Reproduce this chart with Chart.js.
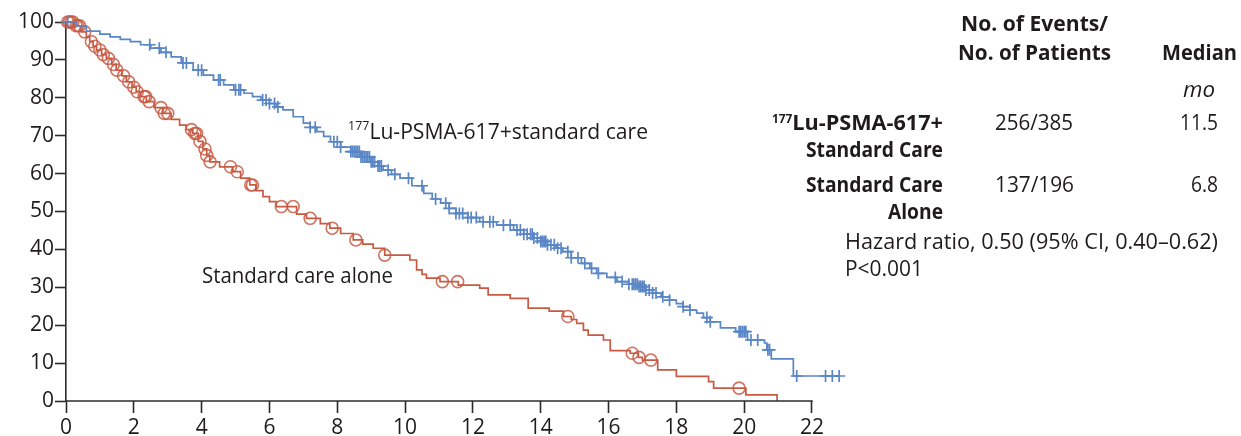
<!DOCTYPE html>
<html>
<head>
<meta charset="utf-8">
<script src="https://cdn.jsdelivr.net/npm/chart.js@4/dist/chart.umd.min.js"></script>
<style>
  html, body { margin: 0; padding: 0; background: #fff; overflow: hidden; }
  #wrap { width: 1241px; height: 436px; position: relative; }
</style>
</head>
<body>
<div id="wrap"><canvas id="km" width="1241" height="436"></canvas></div>
<script>
// Kaplan-Meier overall survival, months from randomization (%)
const lutetiumTimes = [0, 0.3, 0.6, 1.0, 1.3, 1.6, 1.9, 2.2, 2.5, 2.8, 3.1, 3.4, 3.75, 4.05, 4.35, 4.65, 4.95, 5.25, 5.5, 5.75, 6.0, 6.2, 6.4, 6.7, 7.0, 7.2, 7.4, 7.6, 7.8, 8.1, 8.4, 8.7, 9.0, 9.2, 9.35, 9.6, 9.85, 10.2, 10.55, 10.8, 11.05, 11.3, 11.5, 11.85, 12.2, 12.7, 13.2, 13.5, 13.8, 14.0, 14.2, 14.45, 14.65, 14.9, 15.2, 15.45, 15.65, 15.95, 16.25, 16.6, 16.9, 17.1, 17.3, 17.55, 17.8, 18.0, 18.2, 18.4, 18.6, 18.8, 19.0, 19.3, 19.75, 20.1, 20.6, 20.67, 20.8, 21.45, 22.8];
const lutetiumSurvival = [100, 99.0, 97.6, 96.8, 96.1, 95.4, 94.8, 94.0, 93.1, 92.0, 90.8, 89.2, 87.3, 86.0, 84.7, 83.4, 82.1, 81.2, 80.3, 79.4, 78.5, 77.6, 76.8, 75.0, 73.3, 72.2, 71.1, 69.8, 68.4, 67.0, 65.8, 64.4, 63.1, 62.0, 60.9, 59.8, 58.8, 56.8, 54.8, 53.3, 52.2, 50.8, 49.5, 48.4, 47.3, 46.4, 45.1, 44.0, 43.0, 42.1, 41.2, 40.3, 39.4, 37.8, 36.3, 35.0, 33.7, 32.6, 31.5, 30.8, 30.2, 29.3, 28.5, 27.5, 26.6, 25.7, 24.9, 24.0, 23.2, 22.0, 20.9, 19.3, 18.3, 16.1, 15.3, 13.5, 11.1, 6.6, 6.6];
const lutetiumCensored = [0.05, 2.47, 2.75, 2.95, 3.45, 3.55, 3.9, 4.0, 4.5, 4.55, 5.0, 5.1, 5.15, 5.8, 5.9, 6.0, 6.15, 6.25, 7.2, 7.35, 7.9, 8.0, 8.1, 8.4, 8.45, 8.5, 8.55, 8.6, 8.65, 8.7, 8.75, 8.8, 8.85, 8.9, 8.95, 9.0, 9.05, 9.1, 9.2, 9.25, 9.3, 9.5, 9.7, 10.1, 10.5, 10.9, 11.2, 11.3, 11.5, 11.6, 11.7, 11.85, 11.95, 12.1, 12.3, 12.5, 12.6, 12.9, 13.1, 13.3, 13.4, 13.5, 13.6, 13.7, 13.75, 13.8, 13.9, 14.0, 14.05, 14.1, 14.15, 14.2, 14.3, 14.4, 14.5, 14.6, 14.8, 14.9, 15.1, 15.3, 15.5, 15.7, 16.2, 16.4, 16.6, 16.7, 16.75, 16.8, 16.85, 16.9, 16.95, 17.0, 17.05, 17.1, 17.2, 17.3, 17.4, 17.6, 17.8, 18.2, 18.4, 18.9, 19.0, 19.85, 19.9, 19.95, 20.0, 20.05, 20.2, 20.4, 20.7, 20.75, 21.55, 22.4, 22.6, 22.8];

const standardTimes = [0, 0.25, 0.45, 0.6, 0.7, 0.8, 0.9, 1.05, 1.19, 1.35, 1.48, 1.65, 1.78, 1.95, 2.07, 2.2, 2.37, 2.6, 2.86, 3.1, 3.35, 3.55, 3.74, 3.9, 4.04, 4.15, 4.24, 4.53, 4.92, 5.15, 5.42, 5.6, 5.81, 6.0, 6.2, 6.8, 7.09, 7.5, 7.78, 8.1, 8.47, 8.75, 9.06, 9.4, 10.14, 10.34, 10.5, 10.63, 11.03, 11.57, 12.2, 12.45, 13.1, 13.63, 14.25, 14.67, 14.9, 15.06, 15.26, 15.4, 15.85, 16.05, 16.64, 16.88, 17.0, 17.45, 18.0, 18.95, 19.1, 20.05, 20.97];
const standardSurvival = [100, 99.0, 97.4, 96.0, 94.8, 93.6, 92.6, 91.4, 90.4, 88.8, 87.3, 85.8, 84.2, 82.8, 81.6, 80.3, 79.0, 77.4, 75.9, 74.3, 72.8, 71.6, 70.6, 68.5, 66.5, 64.8, 63.1, 61.8, 60.5, 58.8, 57.0, 55.5, 53.9, 52.6, 51.3, 49.3, 48.2, 46.8, 45.6, 44.2, 42.5, 41.4, 40.3, 38.5, 37.2, 34.6, 33.4, 32.4, 31.5, 30.6, 29.8, 28.0, 27.1, 24.5, 23.7, 22.3, 21.5, 20.5, 18.7, 17.4, 16.1, 13.3, 12.6, 11.5, 10.8, 8.2, 6.5, 5.1, 3.4, 1.6, 0];
const standardCensored = [0.05, 0.1, 0.15, 0.2, 0.3, 0.35, 0.4, 0.55, 0.75, 0.85, 1.0, 1.1, 1.25, 1.4, 1.5, 1.7, 1.85, 2.0, 2.1, 2.3, 2.35, 2.45, 2.8, 2.9, 3.0, 3.7, 3.8, 3.85, 3.95, 4.1, 4.15, 4.25, 4.85, 5.05, 5.45, 5.5, 6.35, 6.7, 7.2, 7.85, 8.55, 9.4, 11.1, 11.55, 14.8, 16.7, 16.9, 17.25, 19.85];

const xTickValues = [0, 2, 4, 6, 8, 10, 12, 14, 16, 18, 20, 22];
const yTickValues = [0, 10, 20, 30, 40, 50, 60, 70, 80, 90, 100];

const BLUE = '#5a86c6';
const RED = '#c85a44';
const RED_MARK = 'rgba(200, 90, 68, 0.85)';
const AXIS = '#2b2b2b';
const INK = '#1f1b1c';
const FAMILY = '"Open Sans", "DejaVu Sans", sans-serif';

function toXY(times, values) {
  return times.map((t, i) => ({ x: t, y: values[i] }));
}

// survival value of a step curve at time t
function stepValue(times, values, t) {
  let v = values[0];
  for (let i = 0; i < times.length; i++) {
    if (times[i] <= t) v = values[i]; else break;
  }
  return v;
}

// text drawn as runs (for superscripts), optionally squeezed to a width
function drawRuns(ctx, runs, x, baseline, align, width) {
  let total = 0;
  runs.forEach(r => { ctx.font = r.font; r.w = ctx.measureText(r.text).width; total += r.w; });
  const sx = width ? width / total : 1;
  const drawn = total * sx;
  const left = align === 'right' ? x - drawn : align === 'center' ? x - drawn / 2 : x;
  ctx.save();
  ctx.translate(left, baseline);
  ctx.scale(sx, 1);
  ctx.fillStyle = INK;
  ctx.textAlign = 'left';
  ctx.textBaseline = 'alphabetic';
  let cx = 0;
  runs.forEach(r => { ctx.font = r.font; ctx.fillText(r.text, cx, r.dy || 0); cx += r.w; });
  ctx.restore();
}

const REG = `400 22px ${FAMILY}`;
const BOLD = `700 22px ${FAMILY}`;
const ITAL = `italic 400 21px ${FAMILY}`;
const SUP = `400 13px ${FAMILY}`;
const SUPB = `700 12px ${FAMILY}`;

const annotations = {
  id: 'annotations',
  afterDraw(chart) {
    const ctx = chart.ctx;
    const xs = chart.scales.x;
    const y0 = chart.scales.y.getPixelForValue(0);
    // horizontal axis line over the labelled range
    ctx.save();
    ctx.strokeStyle = AXIS;
    ctx.lineWidth = 1.6;
    ctx.beginPath();
    ctx.moveTo(xs.getPixelForValue(xTickValues[0]) - 0.8, y0);
    ctx.lineTo(xs.getPixelForValue(xTickValues[xTickValues.length - 1]) + 0.8, y0);
    ctx.stroke();
    ctx.restore();

    // curve labels
    drawRuns(ctx, [{ text: '177', font: SUP, dy: -9.5 }, { text: 'Lu-PSMA-617+standard care', font: REG }], 348, 139, 'left', 300);
    drawRuns(ctx, [{ text: 'Standard care alone', font: REG }], 202, 283, 'left', 191);

    // summary table
    drawRuns(ctx, [{ text: 'No. of Events/', font: BOLD }], 961, 30.5, 'left', 147);
    drawRuns(ctx, [{ text: 'No. of Patients', font: BOLD }], 958, 59.5, 'left', 153);
    drawRuns(ctx, [{ text: 'Median', font: BOLD }], 1237, 59.5, 'right', 75);
    drawRuns(ctx, [{ text: 'mo', font: ITAL }], 1215, 96.5, 'right', 32);

    drawRuns(ctx, [{ text: '177', font: SUPB, dy: -7 }, { text: 'Lu-PSMA-617+', font: BOLD }], 943, 130, 'right', 171);
    drawRuns(ctx, [{ text: 'Standard Care', font: BOLD }], 943, 157, 'right', 137);
    drawRuns(ctx, [{ text: '256/385', font: REG }], 995, 130, 'left', 78);
    drawRuns(ctx, [{ text: '11.5', font: REG }], 1218, 130, 'right', 38);

    drawRuns(ctx, [{ text: 'Standard Care', font: BOLD }], 943, 191.5, 'right', 137);
    drawRuns(ctx, [{ text: 'Alone', font: BOLD }], 943, 218.5, 'right', 55);
    drawRuns(ctx, [{ text: '137/196', font: REG }], 995, 191.5, 'left', 79);
    drawRuns(ctx, [{ text: '6.8', font: REG }], 1218, 191.5, 'right', 27);

    drawRuns(ctx, [{ text: 'Hazard ratio, 0.50 (95% CI, 0.40\u20130.62)', font: REG }], 845, 248.5, 'left', 373);
    drawRuns(ctx, [{ text: 'P<0.001', font: REG }], 845, 276, 'left', 78);
  }
};

const tickFont = { family: FAMILY, size: 21, weight: '400' };

new Chart(document.getElementById('km'), {
  type: 'scatter',
  data: {
    datasets: [
      {
        label: '177Lu-PSMA-617+standard care',
        data: toXY(lutetiumTimes, lutetiumSurvival),
        showLine: true,
        stepped: 'before',
        borderColor: BLUE,
        borderWidth: 1.7,
        pointRadius: 0,
        fill: false,
        clip: false
      },
      {
        label: 'Standard care alone',
        data: toXY(standardTimes, standardSurvival),
        showLine: true,
        stepped: 'before',
        borderColor: RED,
        borderWidth: 1.7,
        pointRadius: 0,
        fill: false,
        clip: false
      },
      {
        label: 'Censored (177Lu-PSMA-617)',
        data: lutetiumCensored.map(t => ({ x: t, y: stepValue(lutetiumTimes, lutetiumSurvival, t) })),
        pointStyle: 'cross',
        pointRadius: 6,
        borderColor: BLUE,
        pointBorderWidth: 1.7,
        clip: false
      },
      {
        label: 'Censored (standard care)',
        data: standardCensored.map(t => ({ x: t, y: stepValue(standardTimes, standardSurvival, t) })),
        pointStyle: 'circle',
        pointRadius: 6,
        borderColor: RED_MARK,
        backgroundColor: 'rgba(0,0,0,0)',
        pointBorderWidth: 1.6,
        clip: false
      }
    ]
  },
  options: {
    responsive: false,
    animation: false,
    events: [],
    layout: { padding: { top: 22, right: 398.5, bottom: 0, left: 0 } },
    plugins: { legend: { display: false }, tooltip: { enabled: false } },
    scales: {
      x: {
        type: 'linear',
        min: 0,
        max: 22.9,
        afterBuildTicks: s => { s.ticks = xTickValues.map(v => ({ value: v })); },
        afterFit: s => { s.height = 35; },
        border: { display: false },
        grid: { drawOnChartArea: false, drawTicks: true, tickLength: 12, tickColor: AXIS, tickWidth: 1.6 },
        ticks: { font: tickFont, color: INK, padding: 2, maxRotation: 0, autoSkip: false }
      },
      y: {
        type: 'linear',
        min: 0,
        max: 100,
        afterBuildTicks: s => { s.ticks = yTickValues.map(v => ({ value: v })); },
        afterFit: s => { s.width = 66; },
        border: { display: true, color: AXIS, width: 1.6 },
        grid: { drawOnChartArea: false, drawTicks: true, tickLength: 11, tickColor: AXIS, tickWidth: 1.6 },
        ticks: { font: tickFont, color: INK, padding: 1, autoSkip: false }
      }
    }
  },
  plugins: [annotations]
});
</script>
</body>
</html>
